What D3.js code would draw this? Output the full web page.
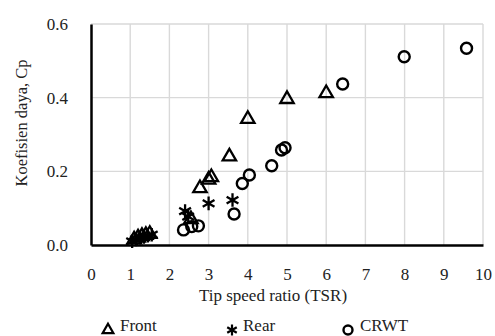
<!DOCTYPE html>
<html>
<head>
<meta charset="utf-8">
<script src="https://cdn.jsdelivr.net/npm/d3@7/dist/d3.min.js"></script>
<style>
  body { margin: 0; background: #fff; }
</style>
</head>
<body>
<svg width="495" height="336"></svg>
<script>
const xTicks = [0, 1, 2, 3, 4, 5, 6, 7, 8, 9, 10];
const yTicks = [0.0, 0.2, 0.4, 0.6];

// Front rotor
const frontTsr = [1.1, 1.2, 1.3, 1.4, 1.5, 2.55, 2.78, 3.0, 3.07, 3.53, 4.0, 5.0, 6.0];
const frontCp  = [0.015, 0.02, 0.024, 0.027, 0.03, 0.07, 0.154, 0.177, 0.184, 0.24, 0.342, 0.396, 0.412];

// Rear rotor
const rearTsr = [1.05, 1.15, 1.25, 1.35, 1.45, 1.55, 2.4, 2.48, 3.0, 3.61];
const rearCp  = [0.01, 0.015, 0.02, 0.022, 0.025, 0.028, 0.092, 0.077, 0.113, 0.122];

// Contra-rotating
const crwtTsr = [2.36, 2.57, 2.74, 3.65, 3.86, 4.04, 4.61, 4.86, 4.95, 6.42, 7.99, 9.58];
const crwtCp  = [0.041, 0.05, 0.052, 0.084, 0.167, 0.19, 0.215, 0.258, 0.264, 0.437, 0.511, 0.534];

const svg = d3.select("svg");
const margin = { left: 91, top: 24, right: 12, bottom: 91 };
const w = 495 - margin.left - margin.right;
const h = 336 - margin.top - margin.bottom;

const x = d3.scaleLinear().domain([0, 10]).range([margin.left, margin.left + w]);
const y = d3.scaleLinear().domain([0, 0.6]).range([margin.top + h, margin.top]);

// grid
svg.append("g").selectAll("line").data(xTicks.slice(1)).join("line")
  .attr("x1", d => x(d)).attr("x2", d => x(d))
  .attr("y1", y(0)).attr("y2", y(0.6))
  .attr("stroke", "#d9d9d9").attr("stroke-width", 1.4);
svg.append("g").selectAll("line").data(yTicks.slice(1)).join("line")
  .attr("x1", x(0)).attr("x2", x(10))
  .attr("y1", d => y(d)).attr("y2", d => y(d))
  .attr("stroke", "#d9d9d9").attr("stroke-width", 1.4);

// axes
const xAxis = svg.append("g").attr("transform", `translate(0,${y(0)})`)
  .call(d3.axisBottom(x).tickValues(xTicks).tickSize(0).tickPadding(23).tickFormat(d3.format("d")));
xAxis.select(".domain").attr("stroke", "#000").attr("stroke-width", 2.5);
xAxis.selectAll("text").attr("font-size", 17);

const yAxis = svg.append("g").attr("transform", `translate(${x(0)},0)`)
  .call(d3.axisLeft(y).tickValues(yTicks).tickSize(0).tickPadding(23).tickFormat(d3.format(".1f")));
yAxis.select(".domain").attr("stroke", "#000").attr("stroke-width", 2.5);
yAxis.selectAll("text").attr("font-size", 17);

// axis titles
svg.append("text").attr("x", 273).attr("y", 301).attr("text-anchor", "middle")
  .attr("font-size", 17).text("Tip speed ratio (TSR)");
svg.append("text").attr("transform", "translate(27,123) rotate(-90)").attr("text-anchor", "middle")
  .attr("font-size", 16.5).text("Koefisien daya, Cp");

const tri = d3.symbol().type(d3.symbolTriangle).size(78);
// six-armed asterisk: vertical bar plus an X
function starPath(r) {
  const p = d3.path();
  p.moveTo(0, -r); p.lineTo(0, r);
  const a = r * Math.cos(Math.PI / 6), b = r * Math.sin(Math.PI / 6);
  p.moveTo(-a, -b); p.lineTo(a, b);
  p.moveTo(-a, b); p.lineTo(a, -b);
  return p.toString();
}

function drawSeries(xs, ys, kind) {
  const data = xs.map((v, i) => [v, ys[i]]);
  const g = svg.append("g");
  if (kind === "circle") {
    g.selectAll("circle").data(data).join("circle")
      .attr("cx", d => x(d[0])).attr("cy", d => y(d[1])).attr("r", 5.5)
      .attr("fill", "none").attr("stroke", "#000").attr("stroke-width", 2.4);
  } else {
    g.selectAll("path").data(data).join("path")
      .attr("transform", d => `translate(${x(d[0])},${y(d[1])})`)
      .attr("d", kind === "tri" ? tri : starPath(6.8))
      .attr("fill", "none").attr("stroke", "#000").attr("stroke-width", 2.3);
  }
}

drawSeries(frontTsr, frontCp, "tri");
drawSeries(rearTsr, rearCp, "star");
drawSeries(crwtTsr, crwtCp, "circle");

// legend
const legend = [
  { name: "Front", kind: "tri", mx: 108, tx: 120 },
  { name: "Rear", kind: "star", mx: 232, tx: 243 },
  { name: "CRWT", kind: "circle", mx: 348, tx: 360 }
];
legend.forEach(l => {
  if (l.kind === "circle") {
    svg.append("circle").attr("cx", l.mx).attr("cy", 330).attr("r", 4.5)
      .attr("fill", "none").attr("stroke", "#000").attr("stroke-width", 2.4);
  } else {
    svg.append("path").attr("transform", `translate(${l.mx},330)`)
      .attr("d", l.kind === "tri" ? d3.symbol().type(d3.symbolTriangle).size(50) : starPath(5.5))
      .attr("fill", "none").attr("stroke", "#000").attr("stroke-width", 2.2);
  }
  svg.append("text").attr("x", l.tx).attr("y", 331).attr("font-size", 17).text(l.name);
});

// serif everywhere
svg.selectAll("text").style("font-family", "'Liberation Serif', serif").attr("fill", "#222");
</script>
</body>
</html>
